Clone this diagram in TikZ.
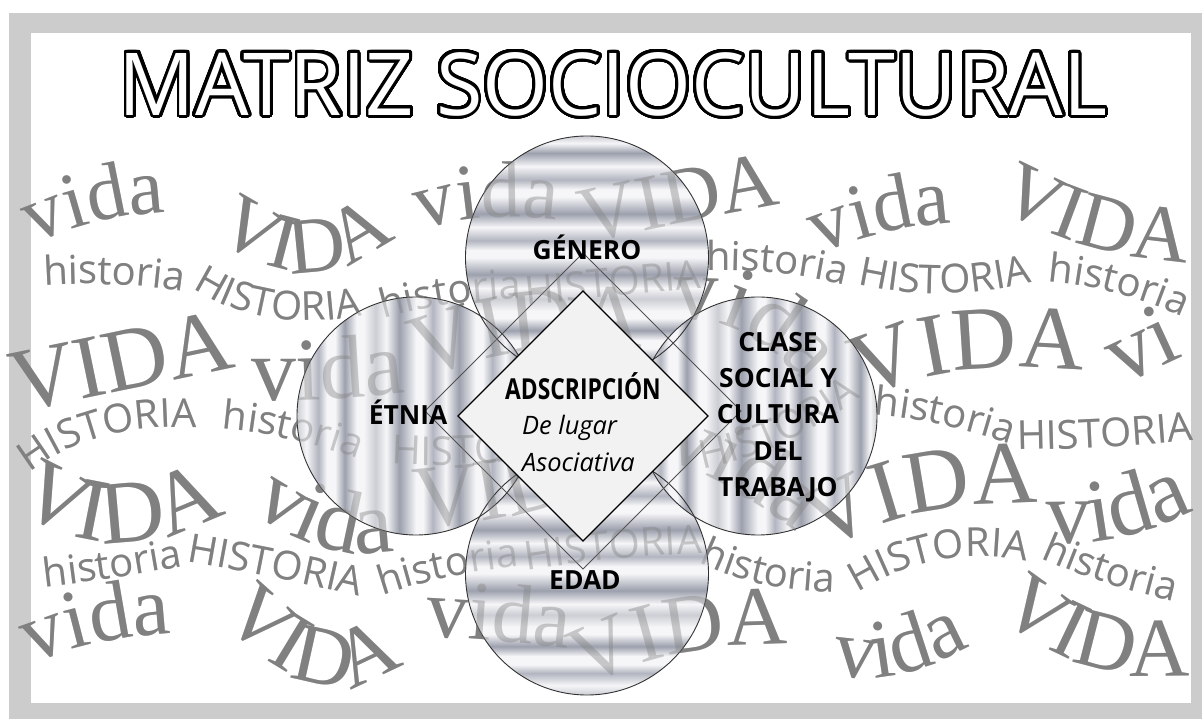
\documentclass[tikz,border=0pt]{standalone}
\usepackage{fontspec}
\usepackage{contour}
\usetikzlibrary{decorations.text}
\newfontfamily\wserif{Liberation Serif}
\newfontfamily\wsans{Open Sans}
\newfontfamily\wcond[FakeStretch=0.79]{Open Sans}
\definecolor{framegray}{RGB}{204,204,204}
\definecolor{wordgray}{RGB}{128,128,128}
\definecolor{mL}{RGB}{246,246,248}
\definecolor{mM}{RGB}{204,206,212}
\definecolor{mD}{RGB}{156,160,173}
\definecolor{mE}{RGB}{178,181,192}
\definecolor{dfill}{RGB}{242,242,242}
\definecolor{circline}{RGB}{50,50,50}
\definecolor{diagline}{RGB}{80,80,80}
\pgfdeclarehorizontalshading{metalx}{100bp}{color(0bp)=(mM); color(25bp)=(mM); color(27bp)=(mL); color(29.5bp)=(mE); color(31.25bp)=(mL); color(33bp)=(mL); color(35bp)=(mD); color(37.5bp)=(mL); color(39bp)=(mL); color(41.5bp)=(mM); color(43.75bp)=(mL); color(46.5bp)=(mD); color(50bp)=(mL); color(51.5bp)=(mL); color(53.5bp)=(mE); color(56.25bp)=(mL); color(59bp)=(mD); color(62.5bp)=(mL); color(64bp)=(mL); color(66bp)=(mE); color(68.75bp)=(mL); color(71.5bp)=(mD); color(73.5bp)=(mL); color(75bp)=(mM); color(100bp)=(mM)}
\pgfdeclareverticalshading{metaly}{100bp}{color(0bp)=(mM); color(25bp)=(mM); color(27bp)=(mL); color(29.5bp)=(mE); color(31.25bp)=(mL); color(33bp)=(mL); color(35bp)=(mD); color(37.5bp)=(mL); color(39bp)=(mL); color(41.5bp)=(mM); color(43.75bp)=(mL); color(46.5bp)=(mD); color(50bp)=(mL); color(51.5bp)=(mL); color(53.5bp)=(mE); color(56.25bp)=(mL); color(59bp)=(mD); color(62.5bp)=(mL); color(64bp)=(mL); color(66bp)=(mE); color(68.75bp)=(mL); color(71.5bp)=(mD); color(73.5bp)=(mL); color(75bp)=(mM); color(100bp)=(mM)}
\newcommand\SerA{\wserif\fontsize{80}{80}\selectfont}
\newcommand\SerB{\wserif\fontsize{90}{90}\selectfont}
\newcommand\SerC{\wserif\fontsize{84}{84}\selectfont}
\newcommand\SanA{\wsans\fontsize{40}{40}\selectfont}
\newcommand\lblfont{\wsans\bfseries\fontsize{26.5}{36.5}\selectfont}
\newcommand\condfont{\wcond\bfseries\fontsize{29}{29}\selectfont}
\newcommand\itfont{\wsans\itshape\fontsize{25.5}{25.5}\selectfont}
\newcommand\titlefont{\wsans\fontsize{88}{88}\selectfont}
\contourlength{3pt}
\contournumber{48}
% background word along a quadratic curve, pixel coordinates (y down)
\newcommand\bgword[8]{\path[decorate,decoration={text along path,text align=center,text color=wordgray,text={|#1|#8}}] (#2,{719-#3}) .. controls ({(#2+2*#4)/3},{719-(#3+2*#5)/3}) and ({(#6+2*#4)/3},{719-(#7+2*#5)/3}) .. (#6,{719-#7});}
\newcommand\allwords{%
\bgword{\SerA}{25}{248}{95}{214}{175}{212}{vida}
\bgword{\SerA}{198}{222}{310}{322}{412}{222}{VIDA}
\bgword{\SerA}{413}{233}{480}{208}{565}{222}{vida}
\bgword{\SerA}{575}{246}{680}{222}{792}{202}{VIDA}
\bgword{\SerA}{800}{262}{880}{224}{972}{222}{vida}
\bgword{\SerA}{985}{200}{1090}{262}{1200}{263}{VIDA}
\bgword{\SanA}{38}{286}{113}{280}{190}{292}{historia}
\bgword{\SanA}{184}{282}{260}{338}{372}{313}{HISTORIA}
\bgword{\SanA}{380}{320}{448}{300}{525}{298}{historia}
\bgword{\SanA}{520}{306}{614}{296}{708}{288}{HISTORIA}
\bgword{\SanA}{698}{271}{780}{268}{853}{287}{historia}
\bgword{\SanA}{849}{282}{942}{306}{1040}{280}{HISTORIA}
\bgword{\SanA}{1040}{281}{1114}{285}{1190}{320}{historia}
\bgword{\SerB}{12}{414}{120}{392}{242}{366}{VIDA}
\bgword{\SerB}{246}{400}{330}{402}{412}{392}{vida}
\bgword{\SerB}{410}{385}{525}{335}{655}{350}{VIDA}
\bgword{\SerB}{660}{325}{735}{300}{815}{395}{vida}
\bgword{\SerB}{856}{404}{940}{355}{1092}{372}{VIDA}
\bgword{\SerB}{1108}{392}{1150}{372}{1198}{350}{vi}
\bgword{\SanA}{20}{482}{85}{420}{210}{428}{HISTORIA}
\bgword{\SanA}{208}{428}{288}{432}{371}{464}{historia}
\bgword{\SanA}{368}{462}{472}{472}{590}{450}{HISTORIA}
\bgword{\SanA}{684}{472}{786}{458}{876}{385}{HISTORIA}
\bgword{\SanA}{866}{414}{934}{418}{1018}{447}{historia}
\bgword{\SanA}{1012}{450}{1102}{449}{1199}{440}{HISTORIA}
\bgword{\SerB}{12}{505}{110}{578}{230}{510}{VIDA}
\bgword{\SerB}{240}{503}{330}{572}{408}{546}{vida}
\bgword{\SerB}{400}{528}{520}{528}{648}{470}{VIDA}
\bgword{\SerB}{648}{455}{720}{470}{808}{542}{vida}
\bgword{\SerB}{820}{556}{900}{500}{1042}{503}{VIDA}
\bgword{\SerB}{1042}{542}{1118}{550}{1199}{508}{vida}
\bgword{\SanA}{38}{588}{110}{580}{190}{565}{historia}
\bgword{\SanA}{180}{560}{274}{576}{366}{598}{HISTORIA}
\bgword{\SanA}{374}{598}{448}{572}{528}{566}{historia}
\bgword{\SanA}{518}{572}{614}{556}{711}{553}{HISTORIA}
\bgword{\SanA}{690}{558}{755}{593}{845}{592}{historia}
\bgword{\SanA}{849}{598}{936}{540}{1036}{563}{HISTORIA}
\bgword{\SanA}{1030}{553}{1097}{585}{1185}{604}{historia}
\bgword{\SerC}{22}{668}{90}{636}{182}{633}{vida}
\bgword{\SerC}{200}{595}{330}{752}{425}{638}{VIDA}
\bgword{\SerC}{418}{636}{500}{640}{576}{649}{vida}
\bgword{\SerC}{575}{694}{660}{640}{800}{645}{VIDA}
\bgword{\SerC}{815}{666}{880}{702}{988}{636}{vida}
\bgword{\SerC}{990}{606}{1080}{692}{1200}{673}{VIDA}
}
\tikzset{
  lblb/.style={font=\lblfont, text=black, inner sep=0pt},
  circedge/.style={draw=circline, line width=0.9bp},
  diagedge/.style={draw=diagline, line width=0.8bp},
}
\begin{document}
\begin{tikzpicture}[x=1bp,y=1bp]
\useasboundingbox (0,0) rectangle (1202,719);
\fill[white] (0,0) rectangle (1202,719);
\fill[framegray] (9,0) rectangle (1202,706);
\fill[white] (31,16) rectangle (1191,686);
% title
\node[text=white, inner sep=0pt] (title) at (613,633.5)
  {\resizebox{988bp}{63bp}{\titlefont\contour{black}{MATRIZ SOCIOCULTURAL}}};
% background words
\allwords
% large diamond and circles
\shade[shading=metaly] (583,466) -- (741,308) -- (583,150) -- (425,308) -- cycle;
\shade[shading=metaly] (587,461.5) circle (121.5);
\shade[shading=metaly] (587,145.5) circle (121.5);
\shade[shading=metalx] (416,303) circle (119);
\shade[shading=metalx] (758,303) circle (119);
\path[circedge] (587,461.5) circle (121.5);
\path[circedge] (587,145.5) circle (121.5);
\path[circedge] (416,303) circle (119);
\path[circedge] (758,303) circle (119);
\path[diagedge] (583,466) -- (741,308) -- (583,150) -- (425,308) -- cycle;
% faint words seen through the circles
\begin{scope}[opacity=0.4]
\allwords
\end{scope}
% inner diamond
\filldraw[fill=dfill, draw=black, line width=1.3bp] (583,428) -- (708,303) -- (583,178) -- (458,303) -- cycle;
% labels
\node[lblb, anchor=base] (genero) at (587,459) {GÉNERO};
\node[lblb, anchor=base] (etnia) at (408,294) {ÉTNIA};
\node[lblb, align=center] (clase) at (778,302) {CLASE\\SOCIAL Y\\CULTURA\\DEL\\TRABAJO};
\node[lblb, anchor=base] (edad) at (585,129) {EDAD};
\node[font=\condfont, inner sep=0pt, anchor=base] (adscr) at (583,319) {ADSCRIPCIÓN};
\node[font=\itfont, inner sep=0pt, anchor=base west] (lugar) at (522,284) {De lugar};
\node[font=\itfont, inner sep=0pt, anchor=base west] (asoc) at (522,247) {Asociativa};
\end{tikzpicture}
\end{document}
